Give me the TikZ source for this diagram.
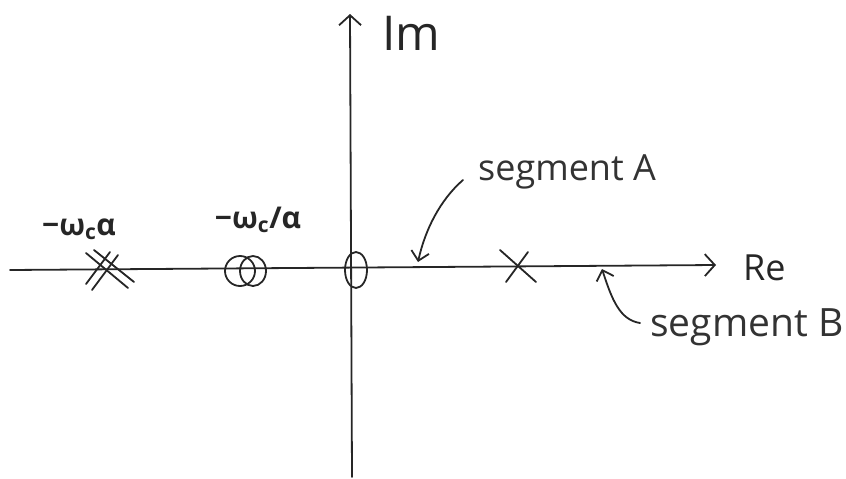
\documentclass[tikz,border=0pt]{standalone}
\usepackage{fontspec}
\setmainfont{Open Sans}
\usetikzlibrary{arrows.meta}
\begin{document}
\begin{tikzpicture}[x=1pt,y=-1pt,
  pen/.style={draw=black!85,line width=1.8pt,line cap=round},
  axis/.style={pen,-{Straight Barb[length=10pt,width=22pt,line width=1.8pt]}},
  pointer/.style={pen,-{Straight Barb[length=9pt,width=18pt,line width=1.8pt]}},
  lbl/.style={inner sep=0pt,text=black!85},
  seg/.style={inner sep=0pt,text=black!80}]
\useasboundingbox (0,0) rectangle (846,479);
% axes
\coordinate (reL) at (10,270);
\coordinate (reR) at (716,265);
\coordinate (imB) at (352,477);
\coordinate (imT) at (350,14);
\draw[axis] (reL) -- (reR);
\draw[axis] (imB) -- (imT);
\node[lbl,anchor=west,font=\fontsize{48}{48}\selectfont] (im) at (382,33) {Im};
\node[lbl,anchor=west,font=\fontsize{36}{36}\selectfont] (re) at (743,268) {Re};
% double pole at -wc alpha
\coordinate (dp) at (108,270);
\draw[pen] ([shift={(-22,-17)}]dp) -- ([shift={(20,18)}]dp);
\draw[pen] ([shift={(-14,-20)}]dp) -- ([shift={(26,12)}]dp);
\draw[pen] ([shift={(10,-15)}]dp) -- ([shift={(-16,20)}]dp);
\draw[pen] ([shift={(2,-18)}]dp) -- ([shift={(-22,14)}]dp);
\node[lbl,font=\fontsize{30}{30}\selectfont\bfseries] (l1) at (79,229) {−ω\textsubscript{c}α};
% double zero at -wc/alpha
\coordinate (dz) at (246,271);
\draw[pen] ([xshift=-6]dz) circle [x radius=15,y radius=15];
\draw[pen] ([xshift=7]dz) circle [x radius=13,y radius=15];
\node[lbl,font=\fontsize{30}{30}\selectfont\bfseries] (l2) at (258,220) {−ω\textsubscript{c}/α};
% zero at origin
\coordinate (z0) at (356,270);
\draw[pen] (z0) ellipse [x radius=11,y radius=18];
% pole
\coordinate (p0) at (518,266);
\draw[pen] ([shift={(-18,-16)}]p0) -- ([shift={(18,16)}]p0);
\draw[pen] ([shift={(10,-14)}]p0) -- ([shift={(-12,16)}]p0);
% segment A
\node[seg,anchor=west,font=\fontsize{36}{36}\selectfont] (sa) at (478,172) {segment A};
\coordinate (sat) at (418,262);
\draw[pointer] (463,180) .. controls (440,200) and (425,230) .. (sat);
% segment B
\node[seg,anchor=west,font=\fontsize{39}{39}\selectfont] (sb) at (650,327) {segment B};
\coordinate (sbt) at (602,269);
\draw[pointer] (640,323) .. controls (620,320) and (612,300) .. (sbt);
\end{tikzpicture}
\end{document}
